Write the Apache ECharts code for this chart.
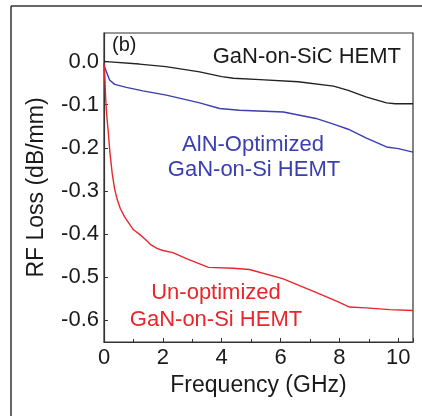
<!DOCTYPE html>
<html>
<head>
<meta charset="utf-8">
<script src="https://cdn.jsdelivr.net/npm/echarts@6/dist/echarts.min.js"></script>
<style>
html,body{margin:0;padding:0;background:#fff;}
#chart{width:422px;height:416px;}
</style>
</head>
<body>
<div id="chart"></div>
<script>
// Data (frequency in GHz, RF loss in dB/mm)
var sicFreq = [0, 0.2, 1.2, 2.1, 3.25, 4.0, 4.4, 5.3, 6.6, 7.8, 8.3, 8.9, 9.6, 9.9, 10.5];
var sicLoss = [0.0, -0.001, -0.006, -0.012, -0.024, -0.035, -0.039, -0.042, -0.047, -0.057, -0.067, -0.082, -0.096, -0.098, -0.098];

var alnFreq = [0, 0.02, 0.19, 0.36, 0.76, 1.32, 2.12, 3.25, 3.93, 4.6, 6.1, 7.2, 7.8, 8.3, 8.9, 9.6, 10.0, 10.5];
var alnLoss = [-0.004, -0.013, -0.043, -0.053, -0.060, -0.068, -0.078, -0.096, -0.109, -0.113, -0.117, -0.132, -0.145, -0.157, -0.177, -0.198, -0.202, -0.210];

var unFreq = [0, 0.03, 0.06, 0.1, 0.14, 0.2, 0.28, 0.36, 0.45, 0.55, 0.7, 0.85, 1.0, 1.2, 1.4, 1.6, 1.8, 2.0, 2.34, 2.8, 3.25, 3.55, 4.4, 4.94, 6.07, 7.2, 8.0, 8.34, 8.9, 9.7, 10.5];
var unLoss = [-0.005, -0.04, -0.09, -0.13, -0.16, -0.21, -0.26, -0.295, -0.32, -0.34, -0.36, -0.375, -0.39, -0.40, -0.412, -0.425, -0.433, -0.438, -0.443, -0.457, -0.469, -0.477, -0.479, -0.482, -0.503, -0.535, -0.558, -0.569, -0.571, -0.575, -0.577];

var xTicks = [0, 2, 4, 6, 8, 10];
var yTicks = [-0.6, -0.5, -0.4, -0.3, -0.2, -0.1, 0.0];

function pairs(xs, ys){ return xs.map(function(x,i){ return [x, ys[i]]; }); }

var FONT = 'Liberation Sans, Arial, sans-serif';
var chart = echarts.init(document.getElementById('chart'), null, {renderer:'canvas'});
chart.setOption({
  animation: false,
  backgroundColor: '#fff',
  grid: {left: 104, top: 33, right: 9, bottom: 74, show: true, borderColor: '#333', borderWidth: 1.2, containLabel: false},
  xAxis: {
    type: 'value', min: 0, max: 10.5, interval: 2,
    name: 'Frequency (GHz)', nameLocation: 'middle', nameGap: 30,
    nameTextStyle: {fontFamily: FONT, fontSize: 23, color: '#1a1a1a'},
    axisLine: {show: true, onZero: false, lineStyle: {color: '#333', width: 1.2}},
    axisTick: {show: true, inside: true, length: 4, lineStyle: {color: '#333'}},
    minorTick: {show: true, splitNumber: 2, length: 3, lineStyle: {color: '#333'}},
    splitLine: {show: false},
    minorSplitLine: {show: false},
    axisLabel: {fontFamily: FONT, fontSize: 22, color: '#1a1a1a', margin: 5,
      customValues: xTicks, formatter: function(v){ return String(v); }}
  },
  yAxis: {
    type: 'value', min: -0.65, max: 0.066,
    name: 'RF Loss (dB/mm)', nameLocation: 'middle', nameGap: 56,
    nameTextStyle: {fontFamily: FONT, fontSize: 23, color: '#1a1a1a'},
    axisLine: {show: true, onZero: false, lineStyle: {color: '#333', width: 1.2}},
    axisTick: {show: true, inside: true, length: 4, customValues: yTicks, lineStyle: {color: '#333'}},
    splitLine: {show: false},
    axisLabel: {fontFamily: FONT, fontSize: 22, color: '#1a1a1a', margin: 5,
      customValues: yTicks, formatter: function(v){ return v.toFixed(1); }}
  },
  series: [
    {type: 'line', data: pairs(sicFreq, sicLoss), showSymbol: false, lineStyle: {color: '#222', width: 1.4}, z: 3},
    {type: 'line', data: pairs(alnFreq, alnLoss), showSymbol: false, lineStyle: {color: '#3a3eae', width: 1.4}, z: 3},
    {type: 'line', data: pairs(unFreq, unLoss), showSymbol: false, lineStyle: {color: '#e8262b', width: 1.4}, z: 4}
  ],
  graphic: [
    {type: 'line', shape: {x1: 11, y1: 6, x2: 11, y2: 416}, style: {stroke: '#333', lineWidth: 1.5}},
    {type: 'line', shape: {x1: 11, y1: 6, x2: 422, y2: 6}, style: {stroke: '#333', lineWidth: 1.5}},
    {type: 'text', left: 112, top: 35, style: {text: '(b)', font: '20px ' + FONT, fill: '#1a1a1a'}},
    {type: 'text', x: 401, y: 57, style: {text: 'GaN-on-SiC HEMT', font: '22px ' + FONT, fill: '#1a1a1a', textAlign: 'right', textVerticalAlign: 'middle'}},
    {type: 'text', x: 253, y: 145, style: {text: 'AlN-Optimized', font: '22px ' + FONT, fill: '#3a3eae', textAlign: 'center', textVerticalAlign: 'middle'}},
    {type: 'text', x: 254, y: 170, style: {text: 'GaN-on-Si HEMT', font: '22px ' + FONT, fill: '#3a3eae', textAlign: 'center', textVerticalAlign: 'middle'}},
    {type: 'text', x: 216, y: 293, style: {text: 'Un-optimized', font: '22px ' + FONT, fill: '#e8262b', textAlign: 'center', textVerticalAlign: 'middle'}},
    {type: 'text', x: 216, y: 320, style: {text: 'GaN-on-Si HEMT', font: '22px ' + FONT, fill: '#e8262b', textAlign: 'center', textVerticalAlign: 'middle'}}
  ]
});
</script>
</body>
</html>
